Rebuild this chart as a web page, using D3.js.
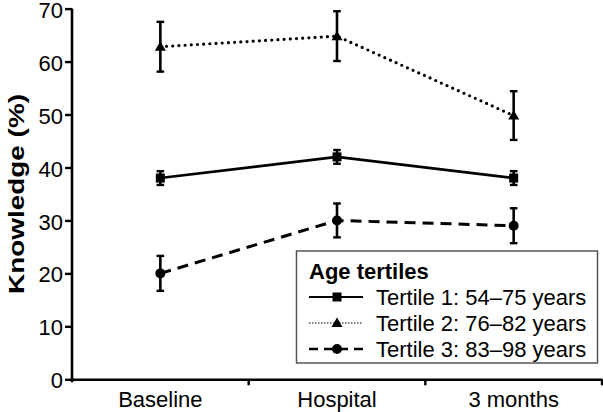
<!DOCTYPE html>
<html><head><meta charset="utf-8">
<script src="https://cdn.jsdelivr.net/npm/d3@7/dist/d3.min.js"></script>
<style>body{margin:0;background:#fff}svg{display:block}text{font-family:"Liberation Sans",Arial,Helvetica,sans-serif;fill:#000}</style>
</head><body><svg id="c" width="603" height="412"></svg>
<script>
const categories = ["Baseline", "Hospital", "3 months"];
const yTicks = [0, 10, 20, 30, 40, 50, 60, 70];
const seriesNames = ["Tertile 1: 54\u201375 years", "Tertile 2: 76\u201382 years", "Tertile 3: 83\u201398 years"];
const tertile1 = [38, 42, 38];
const tertile1Err = [1.3, 1.3, 1.3];
const tertile2 = [62.8, 64.8, 49.8];
const tertile2Err = [4.7, 4.7, 4.6];
const tertile3 = [20, 30, 29];
const tertile3Err = [3.3, 3.2, 3.3];
const legendTitle = "Age tertiles";
const yTitle = "Knowledge (%)";

const series = [
  {name: seriesNames[0], values: tertile1, err: tertile1Err, dash: null, width: 2.6, cap: "butt", marker: "square", ldash: null, lwidth: 2},
  {name: seriesNames[1], values: tertile2, err: tertile2Err, dash: "0,6.2", width: 3.2, cap: "round", marker: "triangle", ldash: "1.5,1.5", lwidth: 1.2},
  {name: seriesNames[2], values: tertile3, err: tertile3Err, dash: "11,7", width: 3, cap: "butt", marker: "circle", ldash: "9,6", lwidth: 2.6}
];

const svg = d3.select("#c");
const x = d3.scaleBand().domain(categories).range([72, 602]);
const y = d3.scaleLinear().domain([0, 70]).range([379.3, 8.6]);
const cx = c => x(c) + x.bandwidth() / 2;
const FS = 22;

// Y axis
const yAxis = svg.append("g").attr("transform", "translate(72,0)")
  .call(d3.axisLeft(y).tickValues(yTicks).tickSize(7).tickPadding(2).tickSizeOuter(0));
yAxis.select(".domain").attr("stroke", "#000").attr("stroke-width", 2.6).attr("d", `M0,${y(70)}V${y(0)+3}`);
yAxis.selectAll(".tick line").attr("stroke", "#000").attr("stroke-width", 2.4);
yAxis.selectAll(".tick text").style("font-size", FS + "px").style("font-family", '"Liberation Sans",Arial,sans-serif').attr("fill", "#000").attr("dy", "0.39em");

// X axis
const xAxis = svg.append("g").attr("transform", `translate(0,${y(0)})`)
  .call(d3.axisBottom(x).tickSize(0).tickPadding(12).tickSizeOuter(0));
xAxis.select(".domain").attr("stroke", "#000").attr("stroke-width", 2.6);
xAxis.selectAll(".tick text").style("font-size", FS + "px").style("font-family", '"Liberation Sans",Arial,sans-serif').attr("fill", "#000").attr("dy", "0.71em");
xAxis.selectAll(".bound").data(categories).enter().append("line")
  .attr("x1", c => x(c) + x.bandwidth()).attr("x2", c => x(c) + x.bandwidth())
  .attr("y1", 0).attr("y2", 6).attr("stroke", "#000").attr("stroke-width", 2.4);

// Y title
svg.append("text").attr("transform", "translate(24,194) rotate(-90)")
  .attr("text-anchor", "middle").style("font-size", "22.5px").style("font-weight", "bold")
  .attr("textLength", 200).attr("lengthAdjust", "spacingAndGlyphs").text(yTitle);

function drawMarker(g, type, px, py) {
  if (type === "square") g.append("rect").attr("x", px - 4.5).attr("y", py - 4.5).attr("width", 9).attr("height", 9).attr("fill", "#000");
  else if (type === "triangle") g.append("path").attr("d", `M${px},${py-5.5}L${px+5.5},${py+4}L${px-5.5},${py+4}Z`).attr("fill", "#000");
  else g.append("circle").attr("cx", px).attr("cy", py).attr("r", 5).attr("fill", "#000");
}

const line = d3.line().x((d, i) => cx(categories[i])).y(d => y(d));
series.forEach(s => {
  const g = svg.append("g");
  g.append("path").attr("d", line(s.values)).attr("fill", "none").attr("stroke", "#000")
    .attr("stroke-width", s.width).attr("stroke-linecap", s.cap).attr("stroke-dasharray", s.dash);
  s.values.forEach((v, i) => {
    const px = cx(categories[i]);
    const t = y(v + s.err[i]), b = y(v - s.err[i]);
    g.append("line").attr("x1", px).attr("x2", px).attr("y1", t).attr("y2", b).attr("stroke", "#000").attr("stroke-width", 2.6);
    [t, b].forEach(yy => g.append("line").attr("x1", px - 3.8).attr("x2", px + 3.8).attr("y1", yy).attr("y2", yy).attr("stroke", "#000").attr("stroke-width", 2.4));
    drawMarker(g, s.marker, px, y(v));
  });
});

// Legend
const lg = svg.append("g");
lg.append("rect").attr("x", 296.5).attr("y", 251).attr("width", 301).attr("height", 112)
  .attr("fill", "#fff").attr("stroke", "#555").attr("stroke-width", 1.5);
lg.append("text").attr("x", 309).attr("y", 278.5).style("font-size", FS + "px").style("font-weight", "bold").text(legendTitle);
series.forEach((s, i) => {
  const ly = 297 + i * 26;
  lg.append("line").attr("x1", 309).attr("x2", 363).attr("y1", ly).attr("y2", ly).attr("stroke", "#000")
    .attr("stroke-width", s.lwidth).attr("stroke-dasharray", s.ldash);
  drawMarker(lg, s.marker, 337, ly);
  lg.append("text").attr("x", 376).attr("y", ly + 7.5).style("font-size", FS + "px").text(s.name);
});
</script></body></html>
